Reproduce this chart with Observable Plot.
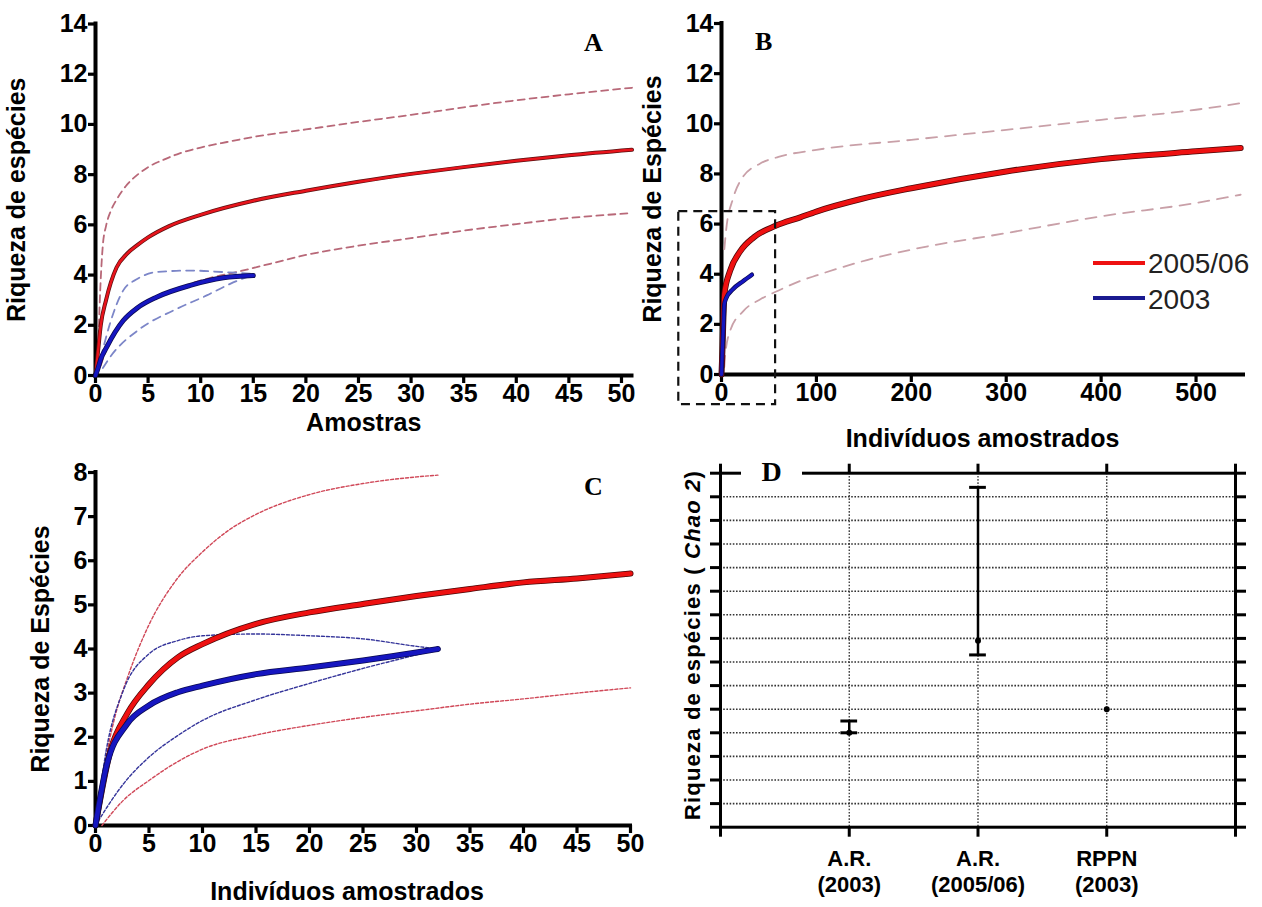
<!DOCTYPE html>
<html><head><meta charset="utf-8">
<script src="https://cdn.jsdelivr.net/npm/d3@7"></script>
<script src="https://cdn.jsdelivr.net/npm/@observablehq/plot@0.6"></script>
<style>
body{margin:0;background:#fff;}
#wrap{position:relative;width:1262px;height:907px;overflow:hidden;background:#fff;font-family:"Liberation Sans",Arial,sans-serif;}
.panel{position:absolute;}
.letter{position:absolute;font-family:"Liberation Serif","Times New Roman",serif;font-weight:bold;font-size:26px;line-height:1;color:#000;}
.leg{position:absolute;font-family:"Liberation Sans",Arial,sans-serif;font-size:28px;color:#222;line-height:1;}
.legline{position:absolute;height:4px;}
</style></head><body><div id="wrap"></div>
<script>
// ---------- Panel A : samples ----------
const aXTicks = [0, 5, 10, 15, 20, 25, 30, 35, 40, 45, 50];
const aYTicks = [0, 2, 4, 6, 8, 10, 12, 14];
const aRedX = [0, 0.25, 0.5, 1, 2, 3, 4, 5, 7, 10, 15, 20, 25, 30, 35, 40, 45, 51];
const aRedY = [0, 1.0, 2.0, 3.0, 4.3, 4.85, 5.2, 5.5, 5.95, 6.4, 6.96, 7.36, 7.72, 8.03, 8.3, 8.55, 8.77, 8.99];
const aRedUpX = [0.25, 0.45, 0.7, 1, 1.5, 2, 3, 4, 5, 6.5, 8, 10, 12.5, 15, 20, 25, 30, 35, 40, 45, 51];
const aRedUpY = [1.0, 3.4, 5.2, 5.95, 6.6, 7.0, 7.6, 8.0, 8.3, 8.6, 8.85, 9.08, 9.3, 9.5, 9.8, 10.1, 10.38, 10.68, 10.96, 11.2, 11.46];
const aRedLoX = [0.5, 1, 2, 3, 5, 8, 11, 13.4, 16.6, 20, 25, 30, 35, 40, 45, 51];
const aRedLoY = [0.4, 1.0, 1.8, 2.3, 2.95, 3.5, 3.9, 4.12, 4.45, 4.8, 5.17, 5.47, 5.77, 6.03, 6.27, 6.47];
const aBlueX = [0, 0.27, 0.5, 1.06, 2.64, 4, 5.8, 9, 12.15, 15];
const aBlueY = [0, 0.33, 0.65, 1.13, 2.19, 2.7, 3.12, 3.59, 3.89, 3.98];
const aBlueUpX = [0.5, 1.38, 2.64, 4, 5.8, 9, 12.15, 15];
const aBlueUpY = [0.7, 2.07, 3.39, 3.85, 4.12, 4.18, 4.12, 4.05];
const aBlueLoX = [0.7, 1.38, 4.23, 7.4, 10.57, 12.8, 15];
const aBlueLoY = [0.3, 0.73, 1.86, 2.59, 3.19, 3.65, 4.02];

// ---------- Panel B : individuals ----------
const bXTicks = [0, 100, 200, 300, 400, 500];
const bYTicks = [0, 2, 4, 6, 8, 10, 12, 14];
const bRedX = [0, 1, 3, 9, 20, 34, 57, 83, 100, 147, 200, 300, 400, 500, 547];
const bRedY = [0, 1, 3.2, 4.13, 4.93, 5.47, 5.93, 6.27, 6.5, 7.0, 7.43, 8.1, 8.59, 8.9, 9.03];
const bRedUpX = [3, 5, 12, 22, 40, 60, 100, 200, 300, 400, 500, 547];
const bRedUpY = [5.0, 5.8, 7.0, 7.85, 8.4, 8.68, 8.96, 9.36, 9.76, 10.16, 10.56, 10.82];
const bRedLoX = [3, 4, 9, 23, 41, 59, 83, 100, 147, 200, 300, 400, 500, 547];
const bRedLoY = [0.3, 0.8, 1.73, 2.53, 3.0, 3.33, 3.73, 3.95, 4.5, 4.98, 5.64, 6.31, 6.84, 7.17];
const bBlueX = [0, 1, 2, 3, 5, 12, 23, 32];
const bBlueY = [0, 1, 1.9, 2.8, 3.05, 3.4, 3.73, 3.98];
const bZoomBox = [-45, 57, -1.2, 6.5]; // x1, x2, y1, y2 of the dashed highlight
const legendLabels = ["2005/06", "2003"];

// ---------- Panel C : individuals (detail) ----------
const cXTicks = [0, 5, 10, 15, 20, 25, 30, 35, 40, 45, 50];
const cYTicks = [0, 1, 2, 3, 4, 5, 6, 7, 8];
const cRedX = [0, 1.4, 2.95, 5, 7.7, 10, 15, 20, 25, 30, 35, 40, 45, 50];
const cRedY = [0, 1.7, 2.53, 3.2, 3.81, 4.11, 4.57, 4.83, 5.02, 5.2, 5.36, 5.51, 5.6, 5.71];
const cRedUpX = [0, 0.8, 1.8, 3, 5, 7.5, 10, 12.5, 15, 20, 25, 30, 32];
const cRedUpY = [0, 1.3, 2.45, 3.36, 4.55, 5.55, 6.2, 6.7, 7.05, 7.5, 7.75, 7.9, 7.94];
const cRedLoX = [0.6, 2.6, 5, 7.7, 10, 15, 20, 25, 30, 35, 40, 45, 50];
const cRedLoY = [0, 0.57, 1.02, 1.45, 1.73, 2.05, 2.27, 2.45, 2.6, 2.75, 2.87, 3.0, 3.12];
const cBlueX = [0, 1, 2.95, 5, 7.7, 10, 15, 20, 25, 30, 32];
const cBlueY = [0, 1.32, 2.3, 2.72, 3.02, 3.17, 3.43, 3.58, 3.74, 3.92, 4.0];
const cBlueUpX = [0, 1, 2.6, 5, 7.7, 10, 15, 20, 25, 30, 32];
const cBlueUpY = [0, 1.7, 3.06, 3.89, 4.19, 4.3, 4.34, 4.3, 4.23, 4.06, 4.0];
const cBlueLoX = [0, 2.6, 5, 7.7, 10, 15, 20, 25, 30, 32];
const cBlueLoY = [0, 0.94, 1.55, 2.04, 2.38, 2.85, 3.22, 3.56, 3.87, 4.0];
const cXLabel = "Indivíduos amostrados";

// ---------- Panel D : Chao 2 ----------
const chaoCats = ["A.R.\n(2003)", "A.R.\n(2005/06)", "RPPN\n(2003)"];
const chaoMean = [4.0, 7.9, 5.0];
const chaoLow = [4.0, 7.3, 5.0];
const chaoHigh = [4.5, 14.4, 5.0];
const dYTicks = d3.range(0, 16);
const dGridTicks = d3.range(1, 15);

// ---------- helpers ----------
const pts = (xs, ys) => xs.map((x, i) => ({x, y: ys[i]}));
const FONT = "'Liberation Sans', Arial, Helvetica, sans-serif";
const baseStyle = {fontFamily: FONT, fontSize: "25px", fontWeight: "bold", color: "#000", background: "transparent", overflow: "visible"};
const RED = "#ee1111", REDEDGE = "#4a0808", BLUE = "#1616c0", BLUEEDGE = "#0a0a50";

function solid(xs, ys, color, edge, w) {
  return [
    Plot.line(pts(xs, ys), {x: "x", y: "y", stroke: edge, strokeWidth: w + 1.0, curve: "monotone-x", strokeLinecap: "round"}),
    Plot.line(pts(xs, ys), {x: "x", y: "y", stroke: color, strokeWidth: w - 0.5, curve: "monotone-x", strokeLinecap: "round"})
  ];
}
function dashed(xs, ys, color, w, dash) {
  return Plot.line(pts(xs, ys), {x: "x", y: "y", stroke: color, strokeWidth: w, strokeDasharray: dash, curve: "monotone-x"});
}
function axes(xTicks, yTicks, xLabel, yLabel, xOff, yOff) {
  return [
    Plot.axisX({ticks: xTicks, tickSize: 8, tickPadding: 1, strokeWidth: 3.2, label: xLabel, labelAnchor: "center", labelArrow: "none", labelOffset: xOff}),
    Plot.axisY({ticks: yTicks, tickSize: 7, tickPadding: 1, strokeWidth: 3.2, label: yLabel, labelAnchor: "center", labelArrow: "none", labelOffset: yOff}),
    Plot.ruleX([0], {strokeWidth: 4, strokeLinecap: "square"}),
    Plot.ruleY([0], {strokeWidth: 4, strokeLinecap: "square"})
  ];
}
const wrap = document.getElementById("wrap");
function place(svg, left, top) {
  svg.classList.add("panel");
  svg.style.position = "absolute";
  svg.style.left = left + "px";
  svg.style.top = top + "px";
  wrap.appendChild(svg);
}
function addDiv(cls, html, css) {
  const d = document.createElement("div");
  d.className = cls; d.innerHTML = html;
  Object.assign(d.style, css);
  wrap.appendChild(d);
  return d;
}

// ---------- Panel A ----------
const plotA = Plot.plot({
  width: 640, height: 445,
  marginLeft: 95, marginRight: 8.5, marginTop: 23.5, marginBottom: 70,
  x: {domain: [0, 51]}, y: {domain: [0, 14]},
  style: baseStyle,
  marks: [
    ...axes(aXTicks, aYTicks, "Amostras", "Riqueza de espécies", 55, 88),
    dashed(aRedUpX, aRedUpY, "#b86878", 1.8, "7,5"),
    dashed(aRedLoX, aRedLoY, "#b86878", 1.8, "7,5"),
    ...solid(aRedX, aRedY, "#e8141c", "#5a1010", 3),
    dashed(aBlueUpX, aBlueUpY, "#7c86c8", 1.8, "8,6"),
    dashed(aBlueLoX, aBlueLoY, "#7c86c8", 1.8, "8,6"),
    ...solid(aBlueX, aBlueY, BLUE, BLUEEDGE, 4)
  ]
});
place(plotA, 0, 0);

// ---------- Panel B ----------
const plotB = Plot.plot({
  width: 622, height: 455,
  marginLeft: 81, marginRight: 19, marginTop: 23, marginBottom: 81,
  x: {domain: [0, 550]}, y: {domain: [0, 14]},
  style: baseStyle,
  marks: [
    ...axes(bXTicks, bYTicks, "Indivíduos amostrados", "Riqueza de Espécies", 72, 78),
    dashed(bRedUpX, bRedUpY, "#c9a0a8", 1.8, "11,8"),
    dashed(bRedLoX, bRedLoY, "#c9a0a8", 1.8, "11,8"),
    ...solid(bRedX, bRedY, RED, REDEDGE, 5),
    ...solid(bBlueX, bBlueY, BLUE, BLUEEDGE, 3.5),
    Plot.rect([bZoomBox], {x1: d => d[0], x2: d => d[1], y1: d => d[2], y2: d => d[3], fill: "none", stroke: "#111", strokeWidth: 2.2, strokeDasharray: "9,6", clip: false})
  ]
});
place(plotB, 640, 0);

// ---------- Panel C ----------
const plotC = Plot.plot({
  width: 660, height: 457,
  marginLeft: 95, marginRight: 30, marginTop: 22, marginBottom: 82,
  x: {domain: [0, 50]}, y: {domain: [0, 8]},
  style: baseStyle,
  marks: [
    ...axes(cXTicks, cYTicks, null, "Riqueza de Espécies", 74, 64),
    Plot.text([cXLabel], {text: d => d, frameAnchor: "bottom", lineAnchor: "bottom", dy: 74, dx: -16}),
    dashed(cRedUpX, cRedUpY, "#d04858", 1.4, "3,2"),
    dashed(cRedLoX, cRedLoY, "#d04858", 1.4, "3,2"),
    dashed(cBlueUpX, cBlueUpY, "#34349a", 1.4, "3,2"),
    dashed(cBlueLoX, cBlueLoY, "#34349a", 1.4, "3,2"),
    ...solid(cRedX, cRedY, RED, REDEDGE, 5),
    ...solid(cBlueX, cBlueY, BLUE, BLUEEDGE, 5)
  ]
});
place(plotC, 0, 450);

// ---------- Panel D ----------
const chao = chaoCats.map((c, i) => ({pos: i + 1, label: c, mean: chaoMean[i], lo: chaoLow[i], hi: chaoHigh[i]}));
const bars = chao.filter(d => d.hi > d.lo);
const capHalf = 0.065;
const plotD = Plot.plot({
  width: 602, height: 457,
  marginLeft: 60, marginRight: 27, marginTop: 22.7, marginBottom: 80.3,
  x: {domain: [0, 4]}, y: {domain: [0, 15]},
  style: {...baseStyle, fontSize: "22px"},
  marks: [
    Plot.gridY({ticks: dGridTicks, stroke: "#333", strokeOpacity: 1, strokeWidth: 1.6, strokeDasharray: "1.6,1.6"}),
    Plot.gridX({ticks: [1, 2, 3], stroke: "#333", strokeOpacity: 1, strokeWidth: 1.3, strokeDasharray: "1.6,1.6"}),
    Plot.axisY({anchor: "left", ticks: dYTicks, tickSize: 10, strokeWidth: 3, tickFormat: () => "", label: null}),
    Plot.axisY({anchor: "right", ticks: dYTicks, tickSize: 10, strokeWidth: 3, tickFormat: () => "", label: null}),
    Plot.axisX({anchor: "top", ticks: [0, 1, 2, 3, 4], tickSize: 10, strokeWidth: 3, tickFormat: () => "", label: null}),
    Plot.axisX({anchor: "bottom", ticks: [0, 1, 2, 3, 4], tickSize: 10, tickPadding: 10, strokeWidth: 3,
      tickFormat: d => (chao.find(c => c.pos === d) || {label: ""}).label, lineHeight: 1.2, label: null}),
    Plot.frame({stroke: "#000", strokeWidth: 3}),
    Plot.ruleX(bars, {x: "pos", y1: "lo", y2: "hi", stroke: "#000", strokeWidth: 2.5}),
    Plot.ruleY(bars, {y: "hi", x1: d => d.pos - capHalf, x2: d => d.pos + capHalf, stroke: "#000", strokeWidth: 3}),
    Plot.ruleY(bars, {y: "lo", x1: d => d.pos - capHalf, x2: d => d.pos + capHalf, stroke: "#000", strokeWidth: 3}),
    Plot.dot(chao, {x: "pos", y: "mean", r: 3, fill: "#000"})
  ]
});
place(plotD, 660, 450);

// ---------- annotations ----------
addDiv("letter", "A", {left: "584px", top: "30px"});
addDiv("letter", "B", {left: "755px", top: "29px"});
addDiv("letter", "C", {left: "584px", top: "474px"});
addDiv("letter", "D", {left: "741px", top: "452px", width: "61px", height: "44px", background: "#fff", fontSize: "28px", textAlign: "center", paddingTop: "6px", boxSizing: "border-box"});
addDiv("legline", "", {left: "1093px", top: "261px", width: "52px", background: RED});
addDiv("legline", "", {left: "1093px", top: "296px", width: "52px", background: "#1a1a90"});
addDiv("leg", legendLabels[0], {left: "1148px", top: "250px"});
addDiv("leg", legendLabels[1], {left: "1148px", top: "286px"});
addDiv("", "Riqueza de espécies ( <i>Chao 2</i>)", {position: "absolute", left: "693px", top: "645px", transform: "translate(-50%,-50%) rotate(-90deg)", whiteSpace: "nowrap", font: "bold 22px 'Liberation Sans', Arial, sans-serif", letterSpacing: "1.2px", color: "#000"});
</script></body></html>
